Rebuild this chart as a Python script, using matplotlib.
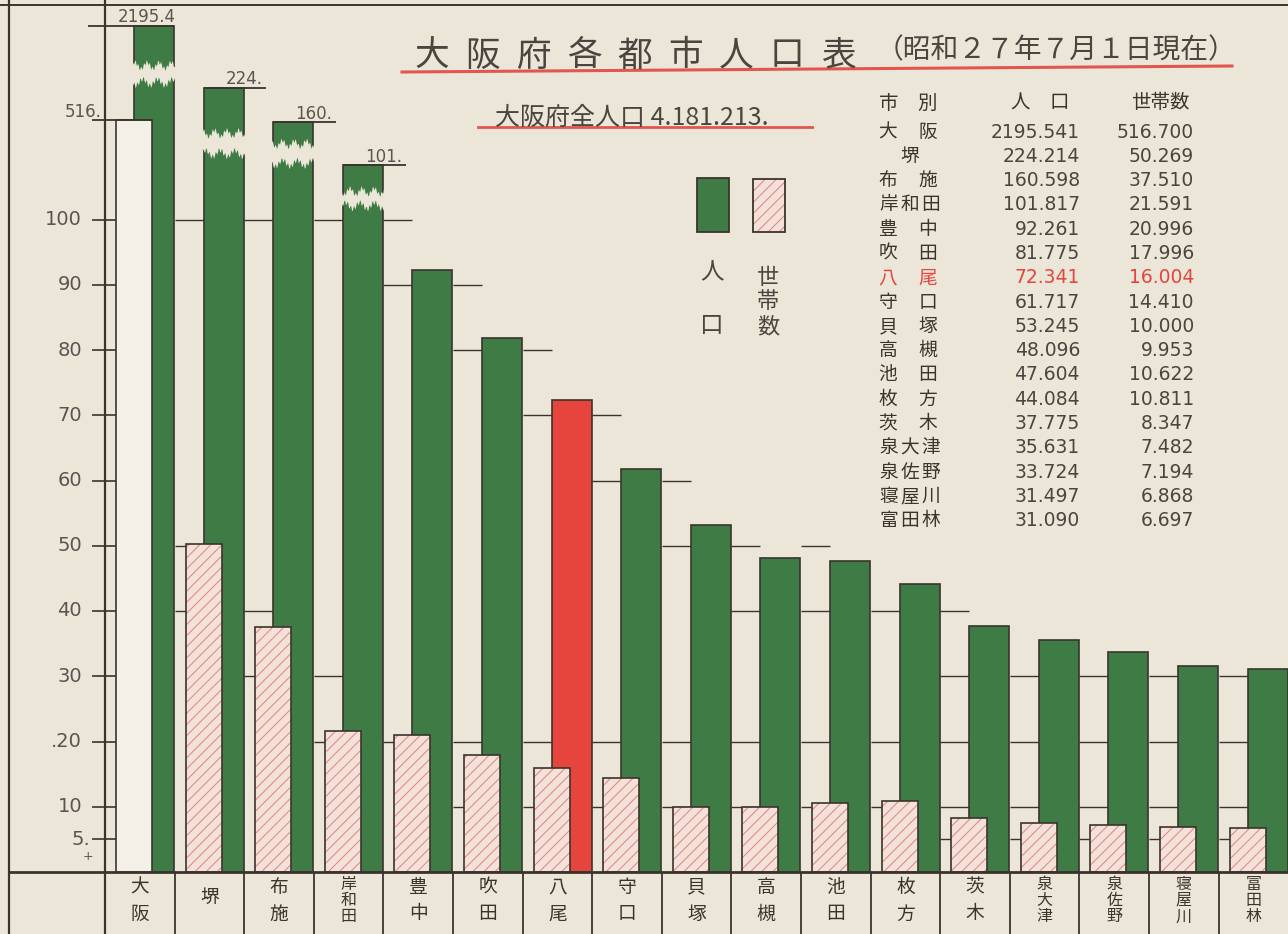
import numpy as np
import matplotlib
matplotlib.use("Agg")
import matplotlib.pyplot as plt
from matplotlib.patches import Polygon, Rectangle
from matplotlib.lines import Line2D

# ---------------- data (population / households in thousands) ----------------
cities = ["大阪", "堺", "布施", "岸和田", "豊中", "吹田", "八尾", "守口", "貝塚",
          "高槻", "池田", "枚方", "茨木", "泉大津", "泉佐野", "寝屋川", "富田林"]
population = [2195.541, 224.214, 160.598, 101.817, 92.261, 81.775, 72.341, 61.717,
              53.245, 48.096, 47.604, 44.084, 37.775, 35.631, 33.724, 31.497, 31.090]
households = [516.700, 50.269, 37.510, 21.591, 20.996, 17.996, 16.004, 14.410,
              10.000, 9.953, 10.622, 10.811, 8.347, 7.482, 7.194, 6.868, 6.697]
highlight_city = "八尾"
y_ticks = [100, 90, 80, 70, 60, 50, 40, 30, 20, 10, 5]
y_tick_labels = ["100", "90", "80", "70", "60", "50", "40", "30", ".20", "10", "5."]
broken_pop_labels = ["2195.4", "224.", "160.", "101."]
broken_hh_label = "516."
title_text = "大阪府各都市人口表"
date_text = "（昭和２７年７月１日現在）"
total_text = "大阪府全人口 4.181.213."
table_headers = ["市　別", "人　口", "世帯数"]
legend_labels = ["人口", "世帯数"]

# ---------------- layout (broken-axis display heights, grid pieces) ----------------
W, H = 1288, 934
CLIP_POP_TOP = [129.7, 120.2, 114.9, 108.3]      # drawn height of clipped bars
CLIP_HH_TOP = 115.2                              # drawn height of Osaka households
BREAKS = [(121.0, 123.6), (110.1, 113.2), (108.6, 111.6), (102.1, 104.3)]
GAP_GRID = {1: [100, 50, 40], 2: [100, 40, 30], 3: [100, 30, 20], 4: [100, 90, 20],
            5: [90, 80, 20, 10], 6: [80, 70, 20, 10], 7: [70, 60, 20, 10],
            8: [60, 50, 20, 10], 9: [50, 40, 20, 10], 10: [50, 40, 20, 10],
            11: [40, 20, 10], 12: [40, 30, 20, 10, 5], 13: [30, 20, 10, 5],
            14: [30, 20, 10, 5], 15: [30, 20, 10, 5], 16: [30, 20, 10, 5]}

BG = "#ebe6d7"
INK = "#3a342d"
GREEN = "#3f7b45"
RED = "#e6453e"
PINK = "#f3e1da"
HATCH = "#e0837b"
LINE_RED = "#e2564e"
TXT = "#4a453f"

plt.rcParams["font.family"] = ["Noto Sans CJK JP", "DejaVu Sans"]
plt.rcParams["hatch.linewidth"] = 0.7

fig = plt.figure(figsize=(W / 100, H / 100), dpi=100)
fig.patch.set_facecolor(BG)
ax = fig.add_axes([0, 0, 1, 1])
ax.set_facecolor(BG)
ax.axis("off")

COL = 69.6      # px per column
PX0 = 105       # px of y axis
PXY = 6.525     # px per unit
BASE = 872      # px of zero line
ax.set_xlim(-PX0 / COL, (W - PX0) / COL)
ax.set_ylim((BASE - H) / PXY, BASE / PXY)


def fx(px):
    return (px - PX0) / COL


def fy(py):
    return (BASE - py) / PXY


n = len(cities)
idx = np.arange(n)
PINK_OFF, PINK_W = 0.417, 0.517
GREEN_OFF, GREEN_W = 0.704, 0.575

# ---------------- frame ----------------
ax.axvline(0, color=INK, lw=1.6, zorder=6)
ax.axvline(fx(9), color=INK, lw=1.6, zorder=6)
ax.axhline(fy(5), color=INK, lw=1.4, zorder=6)
ax.hlines(0, fx(9), n, color=INK, lw=2.0, zorder=6)
ax.vlines(np.arange(1, n), fy(H), 0, color=INK, lw=1.3, zorder=6)

# ---------------- grid pieces in gaps ----------------
for col, levels in GAP_GRID.items():
    ax.hlines(levels, col, col + GREEN_OFF - GREEN_W / 2, color=INK, lw=1.0, zorder=1)

# ---------------- y ticks ----------------
ax.hlines(y_ticks, fx(92), fx(116), color=INK, lw=1.2, zorder=6)
for v, lab in zip(y_ticks, y_tick_labels):
    ax.text(fx(82) if v != 5 else fx(90), v, lab, ha="right", va="center",
            fontsize=14, color="#5a5550", family=["DejaVu Sans"], zorder=7)
ax.text(fx(88), fy(856), "+", ha="center", va="center", fontsize=9,
        color="#5a5550", family=["DejaVu Sans"])

# ---------------- bars ----------------
n_clip = len(CLIP_POP_TOP)
pop_draw = [CLIP_POP_TOP[i] if i < n_clip else population[i] for i in range(n)]
hh_draw = [CLIP_HH_TOP if households[i] > 100 else households[i] for i in range(n)]
pop_colors = [RED if c == highlight_city else GREEN for c in cities]

ax.bar(idx + GREEN_OFF, pop_draw, width=GREEN_W, color=pop_colors,
       edgecolor=INK, linewidth=1.2, zorder=2)

# breaks for clipped bars
for i, (lo, hi) in enumerate(BREAKS):
    x0 = i + GREEN_OFF - GREEN_W / 2 - 0.03
    x1 = i + GREEN_OFF + GREEN_W / 2 + 0.03
    xs = np.linspace(x0, x1, 60)
    t = np.linspace(0, 1, 60)
    top = hi + 0.5 * np.sin(t * 23 + i) + 0.35 * np.sin(t * 97 + 2 * i)
    bot = lo - 0.5 * np.sin(t * 19 + 3 * i) - 0.4 * np.sin(t * 89 + i)
    pts = np.vstack([np.column_stack([xs, bot]), np.column_stack([xs[::-1], top[::-1]])])
    ax.add_patch(Polygon(pts, closed=True, facecolor=BG, edgecolor="none", zorder=3))

# households bars (hatched), Osaka drawn plain
hatched = [i for i in range(n) if households[i] <= 100]
plain = [i for i in range(n) if households[i] > 100]
ax.bar(idx[hatched] + PINK_OFF, [hh_draw[i] for i in hatched], width=PINK_W,
       color=PINK, edgecolor=HATCH, hatch="///", linewidth=0, zorder=4)
ax.bar(idx[plain] + PINK_OFF, [hh_draw[i] for i in plain], width=PINK_W,
       color="#f3f0e8", edgecolor="none", linewidth=0, zorder=4)
ax.bar(idx + PINK_OFF, hh_draw, width=PINK_W, color="none",
       edgecolor=INK, linewidth=1.2, zorder=5)

# labels of clipped bars
for i in range(n_clip):
    if i == 0:
        ax.hlines(pop_draw[i], fx(88), i + GREEN_OFF + GREEN_W / 2, color=INK, lw=1.3, zorder=6)
        lx = i + 0.6
    else:
        ax.hlines(pop_draw[i], i + GREEN_OFF - GREEN_W / 2, i + 1.32, color=INK, lw=1.3, zorder=6)
        lx = i + 1.0
    ax.text(lx, pop_draw[i] + 1.3, broken_pop_labels[i], ha="center", va="center",
            fontsize=12, color="#5a5550", family=["DejaVu Sans"], zorder=7)
for i in plain:
    ax.hlines(hh_draw[i], fx(92), i + PINK_OFF + PINK_W / 2, color=INK, lw=1.3, zorder=6)
    ax.text(fx(83), hh_draw[i] + 1.2, broken_hh_label, ha="center", va="center",
            fontsize=12, color="#5a5550", family=["DejaVu Sans"], zorder=7)

# ---------------- category labels (vertical) ----------------
for i, c in enumerate(cities):
    cx = i + 0.5
    if len(c) == 1:
        ax.text(cx, fy(897), c, ha="center", va="center", fontsize=13.5, color=INK)
    elif len(c) == 2:
        for k, ch in enumerate(c):
            ax.text(cx, fy(887 + 27 * k), ch, ha="center", va="center", fontsize=13.5, color=INK)
    else:
        for k, ch in enumerate(c):
            ax.text(cx, fy(884 + 16.5 * k), ch, ha="center", va="center", fontsize=11.5, color=INK)


# ---------------- title & notes ----------------
def ftxt(px, py, s, **kw):
    return fig.text(px / W, 1 - py / H, s, **kw)


for k, ch in enumerate(title_text):
    ftxt(432 + 50.75 * k, 56, ch, ha="center", va="center", fontsize=25, color=TXT)
ftxt(1056, 50, date_text, ha="center", va="center", fontsize=20, color=TXT)
fig.add_artist(Line2D([402 / W, 1232 / W], [1 - 72 / H, 1 - 66 / H], color=LINE_RED, lw=2.2))

ftxt(632, 118, total_text, ha="center", va="center", fontsize=18, color=TXT)
fig.add_artist(Line2D([478 / W, 812 / W], [1 - 127 / H, 1 - 127 / H], color=LINE_RED, lw=2.0))

# ---------------- legend ----------------
fig.add_artist(Rectangle((697 / W, 1 - 232 / H), 32 / W, 54 / H, transform=fig.transFigure,
                         facecolor=GREEN, edgecolor=INK, lw=1.3))
fig.add_artist(Rectangle((753 / W, 1 - 232 / H), 32 / W, 53 / H, transform=fig.transFigure,
                         facecolor=PINK, edgecolor=HATCH, hatch="///", lw=0))
fig.add_artist(Rectangle((753 / W, 1 - 232 / H), 32 / W, 53 / H, transform=fig.transFigure,
                         facecolor="none", edgecolor=INK, lw=1.3))
for k, ch in enumerate(legend_labels[0]):
    ftxt(712, 272 + 54 * k, ch, ha="center", va="center", fontsize=17, color=TXT)
for k, ch in enumerate(legend_labels[1]):
    ftxt(768, 277 + 25 * k, ch, ha="center", va="center", fontsize=16, color=TXT)

# ---------------- value table ----------------
ftxt(908, 103, table_headers[0], ha="center", va="center", fontsize=14, color=INK)
ftxt(1040, 103, table_headers[1], ha="center", va="center", fontsize=14, color=INK)
ftxt(1160, 103, table_headers[2], ha="center", va="center", fontsize=14, color=INK)
for i, c in enumerate(cities):
    y = 132 + 24.3 * i
    col = RED if c == highlight_city else INK
    ncol = RED if c == highlight_city else TXT
    if len(c) == 1:
        xs = [910]
    elif len(c) == 2:
        xs = [888, 928]
    else:
        xs = [889, 910, 931]
    for x, ch in zip(xs, c):
        ftxt(x, y, ch, ha="center", va="center", fontsize=13.5, color=col)
    ftxt(1080, y, f"{population[i]:.3f}", ha="right", va="center", fontsize=13.5,
         color=ncol, family=["DejaVu Sans"])
    ftxt(1194, y, f"{households[i]:.3f}", ha="right", va="center", fontsize=13.5,
         color=ncol, family=["DejaVu Sans"])

fig.savefig("out.png", dpi=100, facecolor=BG)
